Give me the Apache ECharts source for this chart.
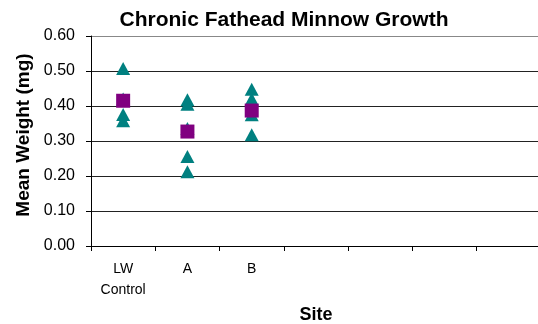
<!DOCTYPE html>
<html>
<head>
<meta charset="utf-8">
<script src="https://cdn.jsdelivr.net/npm/echarts@6/dist/echarts.min.js"></script>
<style>html,body{margin:0;padding:0;background:#fff;}#c{width:538px;height:324px;}</style>
</head>
<body>
<div id="c"></div>
<script>
var categories = ['LW\nControl', 'A', 'B', '', '', '', ''];
var yTicks = [0, 0.1, 0.2, 0.3, 0.4, 0.5, 0.6];
// replicate values (triangles)
var lwReps = [0.507, 0.42, 0.376, 0.358];
var aReps = [0.418, 0.405, 0.336, 0.256, 0.212];
var bReps = [0.448, 0.42, 0.375, 0.318];
// means (squares)
var means = [0.415, 0.327, 0.387];

var repData = [];
[lwReps, aReps, bReps].forEach(function (arr, i) {
  arr.forEach(function (v) { repData.push([i, v]); });
});
var meanData = means.map(function (v, i) { return [i, v]; });

var chart = echarts.init(document.getElementById('c'), null, {renderer: 'canvas'});
chart.setOption({
  animation: false,
  backgroundColor: '#ffffff',
  title: {
    text: 'Chronic Fathead Minnow Growth',
    left: 279, top: 5, textAlign: 'center',
    textStyle: {fontFamily: 'Arial, Liberation Sans', fontWeight: 'bold', fontSize: 21, color: '#000'}
  },
  grid: {left: 91, top: 36, right: -3, bottom: 78, containLabel: false, outerBoundsMode: 'none'},
  xAxis: {
    type: 'category',
    data: categories,
    boundaryGap: true,
    name: 'Site',
    nameLocation: 'middle',
    nameGap: 60,
    nameTextStyle: {fontFamily: 'Arial, Liberation Sans', fontWeight: 'bold', fontSize: 18, color: '#000'},
    axisLine: {lineStyle: {color: '#000', width: 1}},
    axisTick: {show: true, alignWithLabel: false, length: 5, lineStyle: {color: '#000'}},
    axisLabel: {interval: 0, margin: 13, lineHeight: 21, fontFamily: 'Arial, Liberation Sans', fontSize: 14, color: '#000'},
    splitLine: {show: false}
  },
  yAxis: {
    type: 'value',
    min: 0, max: 0.6, interval: 0.1,
    name: 'Mean Weight (mg)',
    nameLocation: 'middle',
    nameGap: 58,
    nameTextStyle: {fontFamily: 'Arial, Liberation Sans', fontWeight: 'bold', fontSize: 19, color: '#000', padding: [0, 0, 0, 12]},
    axisLine: {show: true, lineStyle: {color: '#000', width: 1}},
    axisTick: {show: true, length: 5, lineStyle: {color: '#000'}},
    axisLabel: {
      margin: 16,
      fontFamily: 'Arial, Liberation Sans', fontSize: 16, color: '#000',
      formatter: function (v) { return v.toFixed(2); }
    },
    splitLine: {show: true, lineStyle: {color: ['#222', '#222', '#222', '#222', '#222', '#222', '#888'], width: 1}}
  },
  series: [
    {
      type: 'scatter',
      data: repData,
      symbol: 'triangle',
      symbolSize: [14, 13],
      itemStyle: {color: '#008080', opacity: 1},
      z: 2
    },
    {
      type: 'scatter',
      data: meanData,
      symbol: 'rect',
      symbolSize: 14,
      itemStyle: {color: '#800080', opacity: 1},
      z: 3
    }
  ]
});
</script>
</body>
</html>
